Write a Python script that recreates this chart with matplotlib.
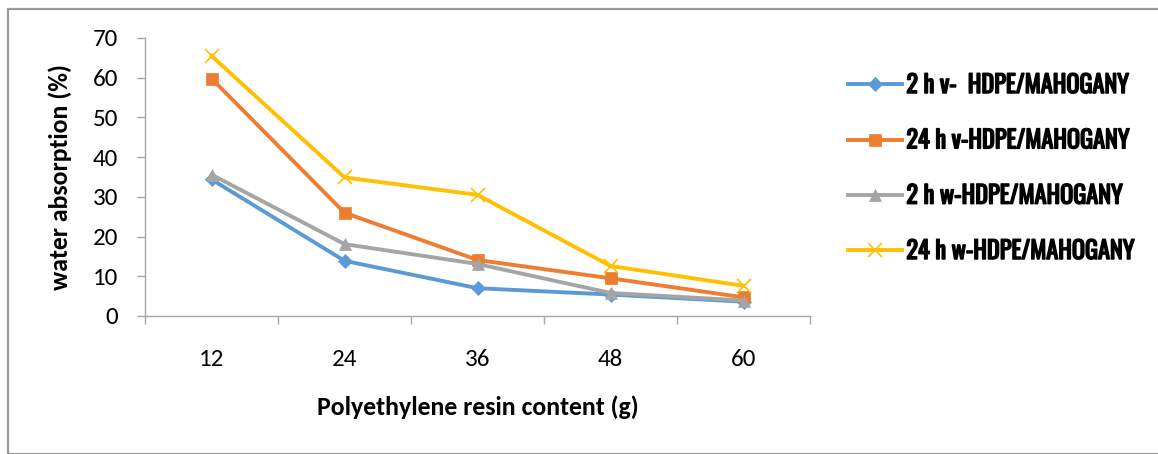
import matplotlib
matplotlib.use("Agg")
import matplotlib.pyplot as plt
import matplotlib.patheffects as pe
from matplotlib import font_manager
from matplotlib.patches import Rectangle

# Water absorption of HDPE/mahogany composites vs resin content
resin_content = ["12", "24", "36", "48", "60"]
wa_2h_v = [34.4, 13.9, 7.0, 5.4, 3.6]
wa_24h_v = [59.8, 26.0, 14.1, 9.5, 4.7]
wa_2h_w = [35.6, 18.1, 13.1, 5.8, 3.9]
wa_24h_w = [65.5, 34.9, 30.5, 12.6, 7.6]

series_labels = [
    "2 h v-  HDPE/MAHOGANY",
    "24 h v-HDPE/MAHOGANY",
    "2 h w-HDPE/MAHOGANY",
    "24 h w-HDPE/MAHOGANY",
]

COLORS = ["#5B9BD5", "#ED7D31", "#A5A5A5", "#FFC000"]
MARKERS = ["D", "s", "^", "x"]
MSIZES = [7, 9, 9, 10.5]
AXIS_GREY = "#A6A6A6"


def first_installed(candidates, default):
    installed = {f.name for f in font_manager.fontManager.ttflist}
    for name in candidates:
        if name in installed:
            return name
    return default


legend_family = first_installed(
    ["Oswald", "Barlow Condensed", "Roboto Condensed", "Pathway Gothic One",
     "Liberation Sans Narrow"], "DejaVu Sans")
text_family = first_installed(["Carlito", "Open Sans"], "DejaVu Sans")

W, H = 1158, 454
fig = plt.figure(figsize=(W / 100, H / 100), dpi=100, facecolor="white")
ax = fig.add_axes([145 / W, (H - 316) / H, (810 - 145) / W, (316 - 38) / H])

# outer chart frame
fig.patches.append(Rectangle((8 / W, 0), 1.2, (H - 8.5) / H, transform=fig.transFigure,
                             facecolor="none", edgecolor="#999999", linewidth=1.6))

x = range(len(resin_content))
for vals, lab, col, mk, ms in zip([wa_2h_v, wa_24h_v, wa_2h_w, wa_24h_w], series_labels,
                                  COLORS, MARKERS, MSIZES):
    ax.plot(x, vals, color=col, linewidth=2.8, marker=mk, markersize=ms,
            markeredgewidth=1.2 if mk == "x" else 0.5, markeredgecolor=col,
            markerfacecolor=col, label=lab, solid_joinstyle="round")

ax.set_xlim(-0.5, len(resin_content) - 0.5)
ax.set_ylim(0, 70)
ax.set_yticks(range(0, 71, 10))
ax.set_xticks(list(x))
ax.set_xticklabels(resin_content)
ax.set_xticks([i - 0.5 for i in range(len(resin_content) + 1)], minor=True)
ax.tick_params(axis="x", which="major", length=0, pad=24)
ax.tick_params(axis="x", which="minor", length=6, color=AXIS_GREY, width=1)
ax.tick_params(axis="y", length=6, color=AXIS_GREY, width=1, pad=13.5)
for lbl in ax.get_xticklabels() + ax.get_yticklabels():
    lbl.set_fontfamily(text_family)
    lbl.set_fontsize(18)

for side in ["top", "right"]:
    ax.spines[side].set_visible(False)
for side in ["left", "bottom"]:
    ax.spines[side].set_color(AXIS_GREY)
    ax.spines[side].set_linewidth(1)

ax.set_xlabel("Polyethylene resin content (g)", fontsize=18.5, fontweight="bold",
              family=text_family, labelpad=18)
ax.set_ylabel("water absorption (%)", fontsize=18.5, fontweight="bold",
              family=text_family, labelpad=15)

leg = fig.legend(loc="upper left", bbox_to_anchor=(848 / W, (H - 74) / H),
                 frameon=False, borderpad=0, borderaxespad=0,
                 handlelength=2.22, handletextpad=0.18, labelspacing=1.33,
                 prop={"family": legend_family, "size": 17.5})
# heavier strokes for the condensed legend face
for t in leg.get_texts():
    t.set_path_effects([pe.Stroke(linewidth=1.1, foreground="black"), pe.Normal()])

fig.savefig("out.png", dpi=100, facecolor="white")
